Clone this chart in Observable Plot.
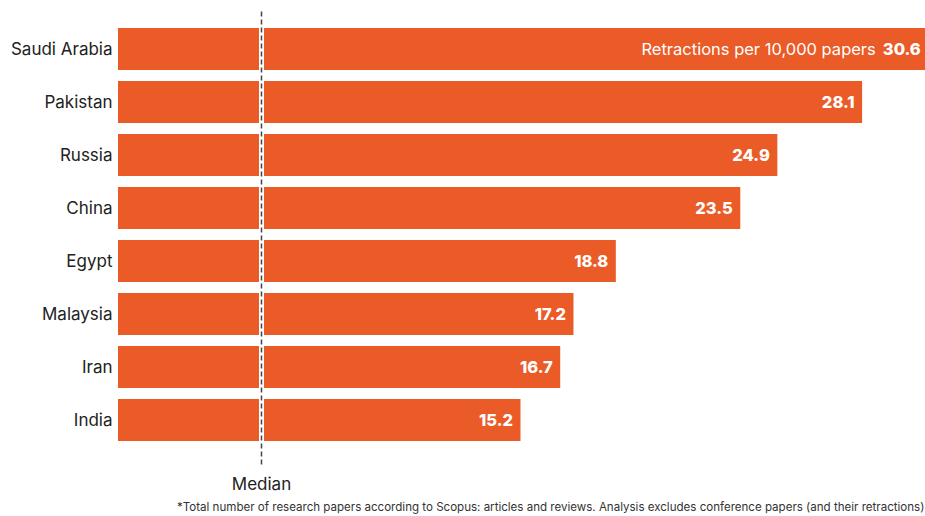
<!DOCTYPE html>
<html>
<head>
<meta charset="utf-8">
<script src="https://cdn.jsdelivr.net/npm/d3@7"></script>
<script src="https://cdn.jsdelivr.net/npm/@observablehq/plot@0.6"></script>
<style>
  html, body { margin: 0; padding: 0; background: #fff; overflow: hidden; width: 925px; height: 516px; }
  #chart svg { overflow: visible; }
  #caption { position: absolute; left: 177px; top: 500px; font: 11.55px Inter, "Noto Sans", sans-serif; color: #333; white-space: nowrap; }
</style>
</head>
<body>
<div id="chart"></div>
<div id="caption">*Total number of research papers according to Scopus: articles and reviews. Analysis excludes conference papers (and their retractions)</div>
<script>
const countries = ["Saudi Arabia", "Pakistan", "Russia", "China", "Egypt", "Malaysia", "Iran", "India"];
const values = [30.6, 28.1, 24.9, 23.5, 18.8, 17.2, 16.7, 15.2];
const median = 5.4;
const medianLabel = "Median";
const firstPrefix = "Retractions per 10,000 papers";

const data = countries.map((c, i) => ({country: c, value: values[i]}));
const orange = "#EA5B27";
const font = "Inter, 'Noto Sans', sans-serif";

const plot = Plot.plot({
  width: 925,
  height: 498,
  marginLeft: 118,
  marginRight: 12.6,
  marginTop: 17.4,
  marginBottom: 46,
  style: {fontFamily: font, fontSize: "17px", color: "#222", overflow: "visible"},
  x: {domain: [0, 30], axis: null},
  y: {domain: countries, padding: 0.2, label: null, tickSize: 0, tickPadding: 6},
  marks: [
    Plot.barX(data, {y: "country", x: "value", fill: orange}),
    Plot.ruleX([median], {stroke: "white", strokeWidth: 5}),
    Plot.ruleX([median], {stroke: "#444", strokeWidth: 1.5, strokeDasharray: "5,3", insetTop: -6, insetBottom: -13}),
    Plot.text(data, {y: "country", x: "value", text: d => d.value.toFixed(1), textAnchor: "end", dx: -8, fill: "white", fontWeight: 800, fontSize: 16.5}),
    Plot.text([data[0]], {y: "country", x: "value", text: () => firstPrefix, textAnchor: "end", dx: -53, fill: "white", fontSize: 16.5}),
    Plot.text([median], {x: d => d, frameAnchor: "bottom", dy: 37, text: () => medianLabel, fill: "#222", fontSize: 17})
  ]
});
document.getElementById("chart").appendChild(plot);
</script>
</body>
</html>
